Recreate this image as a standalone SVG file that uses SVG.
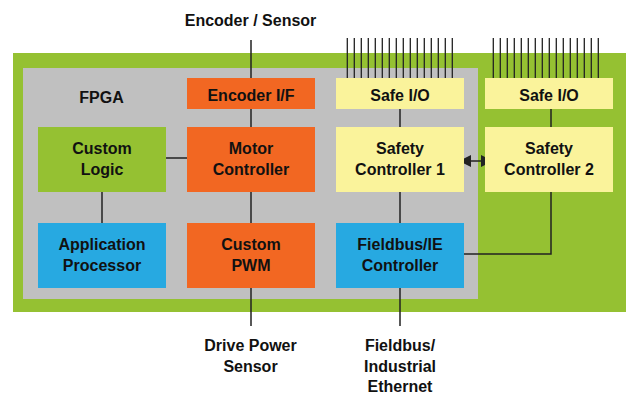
<svg xmlns="http://www.w3.org/2000/svg" width="626" height="395" viewBox="0 0 626 395">
<style>
text{font-family:"Liberation Sans",Arial,sans-serif;font-weight:bold;font-size:16px;fill:#111;text-anchor:middle}
.ln{stroke:#222;stroke-width:1.5;fill:none}
.pin{stroke:#222;stroke-width:1.3}
.g{fill:#95c132}.o{fill:#f26722}.y{fill:#faf39b}.b{fill:#27a9e1}
</style>
<defs>
<marker id="ah" viewBox="0 0 12 12" refX="12" refY="6" markerWidth="12" markerHeight="12" markerUnits="userSpaceOnUse" orient="auto-start-reverse"><path d="M0,0L12,6L0,12z" fill="#222"/></marker>
</defs>
<rect id="board" x="13" y="53" width="613" height="259" fill="#95c132"/>
<rect id="fpga-bg" x="23" y="68" width="455" height="231" fill="#c0c0c0"/>
<text x="101.5" y="103">FPGA</text>
<text x="250.5" y="26">Encoder / Sensor</text>
<g id="connectors">
<path class="ln" d="M251,40V78M251,109V127M251,192V223M251,288V326"/>
<path class="ln" d="M166,158H187M102,192V223"/>
<path class="ln" d="M400,109V127M400,192V223M400,288V326"/>
<path class="ln" d="M551,109V127M551,192V254H464"/>
<path class="ln" d="M459,161H493" stroke-width="2.5" marker-start="url(#ah)" marker-end="url(#ah)"/>
<g class="pin">
<path d="M347.3,38V78M354.3,38V78M361.3,38V78M368.3,38V78M375.3,38V78M382.3,38V78M389.3,38V78M396.3,38V78M403.3,38V78M410.3,38V78M417.3,38V78M424.3,38V78M431.3,38V78M438.3,38V78M445.3,38V78M452.3,38V78"/>
<path d="M493.3,38V78M500.3,38V78M507.3,38V78M514.3,38V78M521.3,38V78M528.3,38V78M535.3,38V78M542.3,38V78M549.3,38V78M556.3,38V78M563.3,38V78M570.3,38V78M577.3,38V78M584.3,38V78M591.3,38V78M598.3,38V78"/>
</g>
</g>
<g id="encoder-if"><rect class="o" x="187" y="78" width="128" height="31"/><text x="251" y="101">Encoder I/F</text></g>
<g id="safe-io-1"><rect class="y" x="336" y="78" width="128" height="31"/><text x="400" y="101">Safe I/O</text></g>
<g id="safe-io-2"><rect class="y" x="485" y="78" width="128" height="31"/><text x="549" y="101">Safe I/O</text></g>
<g id="custom-logic"><rect class="g" x="38" y="127" width="128" height="65"/><text x="102" y="154">Custom</text><text x="102" y="175">Logic</text></g>
<g id="motor-controller"><rect class="o" x="187" y="127" width="128" height="65"/><text x="251" y="154">Motor</text><text x="251" y="175">Controller</text></g>
<g id="safety-controller-1"><rect class="y" x="336" y="127" width="128" height="65"/><text x="400" y="154">Safety</text><text x="400" y="175">Controller 1</text></g>
<g id="safety-controller-2"><rect class="y" x="485" y="127" width="128" height="65"/><text x="549" y="154">Safety</text><text x="549" y="175">Controller 2</text></g>
<g id="application-processor"><rect class="b" x="38" y="223" width="128" height="65"/><text x="102" y="250">Application</text><text x="102" y="271">Processor</text></g>
<g id="custom-pwm"><rect class="o" x="187" y="223" width="128" height="65"/><text x="251" y="250">Custom</text><text x="251" y="271">PWM</text></g>
<g id="fieldbus-controller"><rect class="b" x="336" y="223" width="128" height="65"/><text x="400" y="250">Fieldbus/IE</text><text x="400" y="271">Controller</text></g>
<g id="drive-power-sensor"><text x="250.5" y="351">Drive Power</text><text x="250.5" y="372">Sensor</text></g>
<g id="fieldbus-ethernet"><text x="400" y="351">Fieldbus/</text><text x="400" y="372">Industrial</text><text x="400" y="392">Ethernet</text></g>
</svg>
